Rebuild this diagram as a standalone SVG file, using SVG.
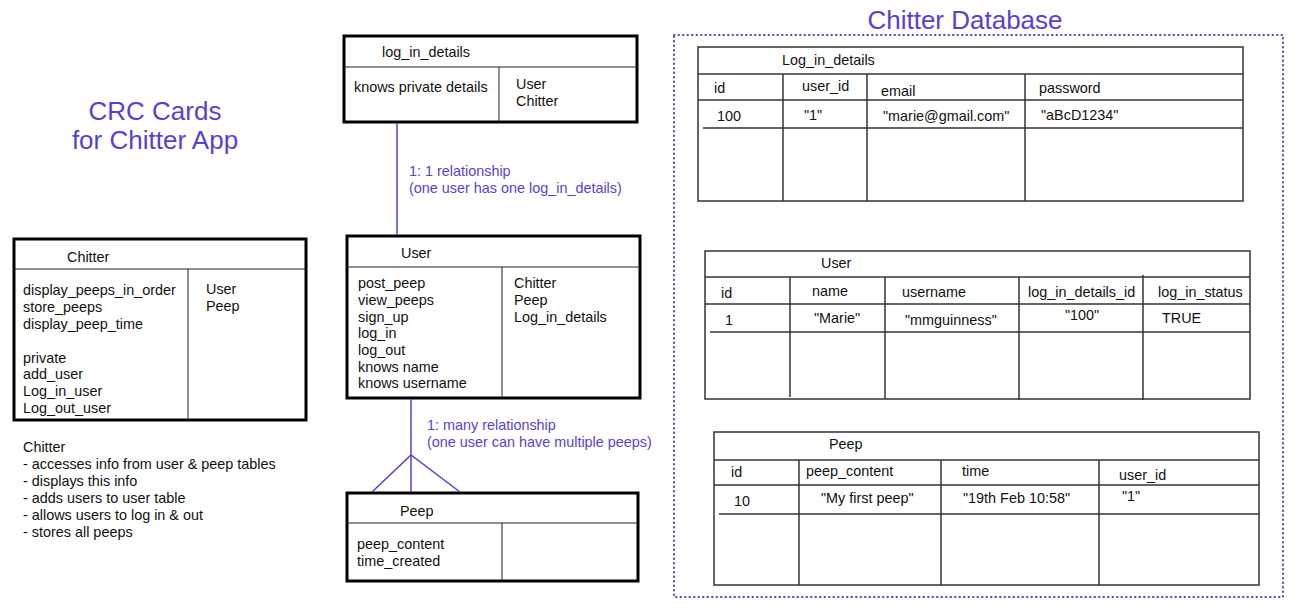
<svg xmlns="http://www.w3.org/2000/svg" width="1293" height="612" viewBox="0 0 1293 612">
<style>
text{font-family:"Liberation Sans",Arial,sans-serif;font-size:14.4px;fill:#111}
.title{font-size:26px;fill:#5a3fcf}
.rel{fill:#5a3fcf}
.card{fill:#fff;stroke:#000;stroke-width:3}
.in{stroke:#222;stroke-width:1;fill:none}
.tbl{fill:#fff;stroke:#333;stroke-width:1.5}
.tl{stroke:#333;stroke-width:1.5;fill:none}
.conn{stroke:#5a3fcf;stroke-width:1.5;fill:none}
</style>
<rect width="1293" height="612" fill="#fff"/>
<text class="title" x="155" y="120" text-anchor="middle">CRC Cards</text>
<text class="title" x="155" y="149" text-anchor="middle">for Chitter App</text>
<text class="title" x="965" y="29" text-anchor="middle">Chitter Database</text>

<g id="chitter-card">
<rect class="card" x="14" y="239" width="292" height="181"/>
<line class="in" x1="14" y1="269" x2="306" y2="269"/>
<line class="in" x1="188" y1="269" x2="188" y2="420"/>
<text x="67" y="262">Chitter</text>
<text x="23" y="295">display_peeps_in_order</text>
<text x="23" y="312">store_peeps</text>
<text x="23" y="329">display_peep_time</text>
<text x="23" y="363">private</text>
<text x="23" y="379">add_user</text>
<text x="23" y="396">Log_in_user</text>
<text x="23" y="413">Log_out_user</text>
<text x="206" y="294">User</text>
<text x="206" y="311">Peep</text>
</g>

<g id="chitter-notes">
<text x="23" y="452">Chitter</text>
<text x="23" y="469">- accesses info from user &amp; peep tables</text>
<text x="23" y="486">- displays this info</text>
<text x="23" y="503">- adds users to user table</text>
<text x="23" y="520">- allows users to log in &amp; out</text>
<text x="23" y="537">- stores all peeps</text>
</g>

<g id="login-card">
<rect class="card" x="344" y="36" width="293" height="86"/>
<line class="in" x1="344" y1="67" x2="637" y2="67"/>
<line class="in" x1="499" y1="67" x2="499" y2="122"/>
<text x="382" y="57">log_in_details</text>
<text x="354" y="92">knows private details</text>
<text x="516" y="89">User</text>
<text x="516" y="106">Chitter</text>
</g>

<g id="user-card">
<rect class="card" x="347" y="236" width="293" height="162"/>
<line class="in" x1="347" y1="267" x2="640" y2="267"/>
<line class="in" x1="502" y1="267" x2="502" y2="398"/>
<text x="401" y="258">User</text>
<text x="358" y="288">post_peep</text>
<text x="358" y="305">view_peeps</text>
<text x="358" y="322">sign_up</text>
<text x="358" y="338">log_in</text>
<text x="358" y="355">log_out</text>
<text x="358" y="372">knows name</text>
<text x="358" y="388">knows username</text>
<text x="514" y="288">Chitter</text>
<text x="514" y="305">Peep</text>
<text x="514" y="322">Log_in_details</text>
</g>

<g id="peep-card">
<rect class="card" x="347" y="493" width="291" height="88"/>
<line class="in" x1="347" y1="523" x2="638" y2="523"/>
<line class="in" x1="502" y1="523" x2="502" y2="581"/>
<text x="400" y="516">Peep</text>
<text x="357" y="549">peep_content</text>
<text x="357" y="566">time_created</text>
</g>

<g id="connectors">
<line class="conn" x1="397" y1="123" x2="397" y2="235"/>
<text class="rel" x="409" y="176">1: 1 relationship</text>
<text class="rel" x="409" y="193">(one user has one log_in_details)</text>
<line class="conn" x1="411" y1="399" x2="411" y2="492"/>
<path class="conn" d="M372 492 L411 455 L460 492"/>
<text class="rel" x="427" y="430">1: many relationship</text>
<text class="rel" x="427" y="447">(one user can have multiple peeps)</text>
</g>

<g id="database">
<rect x="674" y="35" width="609" height="562" fill="none" stroke="#5a3fcf" stroke-width="2" stroke-dasharray="0.5 4" stroke-linecap="round"/>

<g id="table-login">
<rect class="tbl" x="698" y="47" width="545" height="154"/>
<line class="tl" x1="698" y1="74" x2="1243" y2="74"/>
<line class="tl" x1="698" y1="100" x2="1243" y2="100"/>
<line class="tl" x1="703" y1="128" x2="1243" y2="128"/>
<line class="tl" x1="783" y1="74" x2="783" y2="201"/>
<line class="tl" x1="867" y1="74" x2="867" y2="201"/>
<line class="tl" x1="1025" y1="74" x2="1025" y2="201"/>
<text x="782" y="65">Log_in_details</text>
<text x="714" y="93">id</text>
<text x="802" y="91">user_id</text>
<text x="881" y="96">email</text>
<text x="1039" y="93">password</text>
<text x="717" y="121">100</text>
<text x="804" y="120">"1"</text>
<text x="883" y="121">"marie@gmail.com"</text>
<text x="1041" y="120">"aBcD1234"</text>
</g>

<g id="table-user">
<rect class="tbl" x="705" y="251" width="545" height="148"/>
<line class="tl" x1="705" y1="277" x2="1250" y2="277"/>
<line class="tl" x1="705" y1="304" x2="1250" y2="304"/>
<line class="tl" x1="710" y1="332" x2="1250" y2="332"/>
<line class="tl" x1="790" y1="277" x2="790" y2="397"/>
<line class="tl" x1="885" y1="277" x2="885" y2="399"/>
<line class="tl" x1="1019" y1="277" x2="1019" y2="400"/>
<line class="tl" x1="1143" y1="275" x2="1143" y2="400"/>
<text x="821" y="268">User</text>
<text x="721" y="298">id</text>
<text x="812" y="296">name</text>
<text x="902" y="297">username</text>
<text x="1028" y="297">log_in_details_id</text>
<text x="1158" y="297">log_in_status</text>
<text x="725" y="325">1</text>
<text x="814" y="323">"Marie"</text>
<text x="905" y="325">"mmguinness"</text>
<text x="1065" y="320">"100"</text>
<text x="1162" y="323">TRUE</text>
</g>

<g id="table-peep">
<rect class="tbl" x="714" y="432" width="545" height="153"/>
<line class="tl" x1="714" y1="460" x2="1259" y2="460"/>
<line class="tl" x1="714" y1="485" x2="1259" y2="485"/>
<line class="tl" x1="719" y1="514" x2="1259" y2="514"/>
<line class="tl" x1="799" y1="460" x2="799" y2="585"/>
<line class="tl" x1="941" y1="460" x2="941" y2="585"/>
<line class="tl" x1="1099" y1="460" x2="1099" y2="585"/>
<text x="829" y="449">Peep</text>
<text x="731" y="477">id</text>
<text x="806" y="476">peep_content</text>
<text x="962" y="476">time</text>
<text x="1119" y="480">user_id</text>
<text x="734" y="506">10</text>
<text x="821" y="503">"My first peep"</text>
<text x="963" y="503">"19th Feb 10:58"</text>
<text x="1122" y="501">"1"</text>
</g>
</g>
</svg>
